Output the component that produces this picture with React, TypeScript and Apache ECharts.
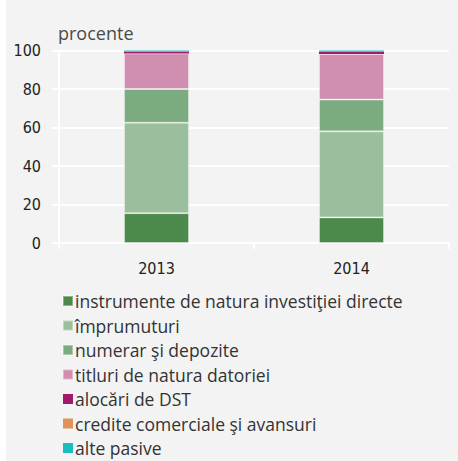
import React, { useEffect, useRef } from "react";
import * as echarts from "echarts";

const categories = ["2013", "2014"];
const seriesNames = [
  "instrumente de natura investiţiei directe",
  "împrumuturi",
  "numerar şi depozite",
  "titluri de natura datoriei",
  "alocări de DST",
  "credite comerciale şi avansuri",
  "alte pasive",
];
const directInvestment = [15.5, 13.3];
const loans = [47.0, 44.7];
const cashDeposits = [17.5, 16.5];
const debtSecurities = [18.5, 23.7];
const sdrAllocations = [1.0, 1.3];
const tradeCredits = [0.2, 0.2];
const otherLiabilities = [0.3, 0.3];
const yTicks = [0, 20, 40, 60, 80, 100];

const colors = ["#4b8a4b", "#9bbf9d", "#7bab7e", "#d08fb0", "#a11a69", "#e0925b", "#1cbcbc"];

export default function App() {
  const ref = useRef<HTMLDivElement>(null);
  useEffect(() => {
    if (!ref.current) return;
    const chart = echarts.init(ref.current, null, { renderer: "svg" });
    const values = [directInvestment, loans, cashDeposits, debtSecurities, sdrAllocations, tradeCredits, otherLiabilities];
    chart.setOption({
      animation: false,
      backgroundColor: "transparent",
      color: colors,
      grid: { left: 53, right: 9, top: 50.5, bottom: 218 },
      graphic: [
        {
          type: "text",
          left: 52,
          top: 24,
          style: { text: "procente", fill: "#4a4a4a", font: "18px 'Open Sans'" },
        },
      ],
      xAxis: {
        type: "category",
        data: categories,
        axisLine: { show: true, lineStyle: { color: "#ffffff", width: 2 } },
        axisTick: { show: true, length: 6, lineStyle: { color: "#ffffff", width: 2 } },
        axisLabel: {
          color: "#222",
          fontFamily: "'Liberation Sans Narrow', 'DejaVu Sans Condensed', sans-serif",
          fontSize: 16,
          margin: 17,
        },
      },
      yAxis: {
        type: "value",
        min: yTicks[0],
        max: yTicks[yTicks.length - 1],
        interval: 20,
        axisLine: { show: true, lineStyle: { color: "#ffffff", width: 2 } },
        axisTick: { show: true, length: 7, lineStyle: { color: "#ffffff", width: 2 } },
        splitLine: { show: true, lineStyle: { color: "#ffffff", width: 2 } },
        axisLabel: {
          color: "#222",
          fontFamily: "'Liberation Sans Narrow', 'DejaVu Sans Condensed', sans-serif",
          fontSize: 16,
          margin: 18,
        },
      },
      legend: {
        orient: "vertical",
        left: 56,
        top: 291,
        padding: 0,
        itemWidth: 10,
        itemHeight: 10,
        itemGap: 4.5,
        icon: "rect",
        textStyle: {
          color: "#333",
          fontFamily: "'Open Sans', sans-serif",
          fontSize: 17.5,
          lineHeight: 20,
          padding: [0, 0, 0, -3],
        },
        data: seriesNames,
      },
      series: seriesNames.map((name, i) => ({
        name,
        type: "bar",
        stack: "total",
        barWidth: 65,
        data: values[i],
        itemStyle: { borderColor: "rgba(255,255,255,0.35)", borderWidth: i >= 4 ? 0 : 1 },
      })),
    });
    return () => chart.dispose();
  }, []);
  return (
    <div style={{ position: "fixed", left: 0, top: 0, width: 458, height: 461, background: "#ffffff" }}>
      <div style={{ position: "absolute", left: 6, top: 0, width: 452, height: 461, background: "#f2f3f2" }}>
        <div ref={ref} style={{ width: 452, height: 461 }} />
      </div>
    </div>
  );
}
